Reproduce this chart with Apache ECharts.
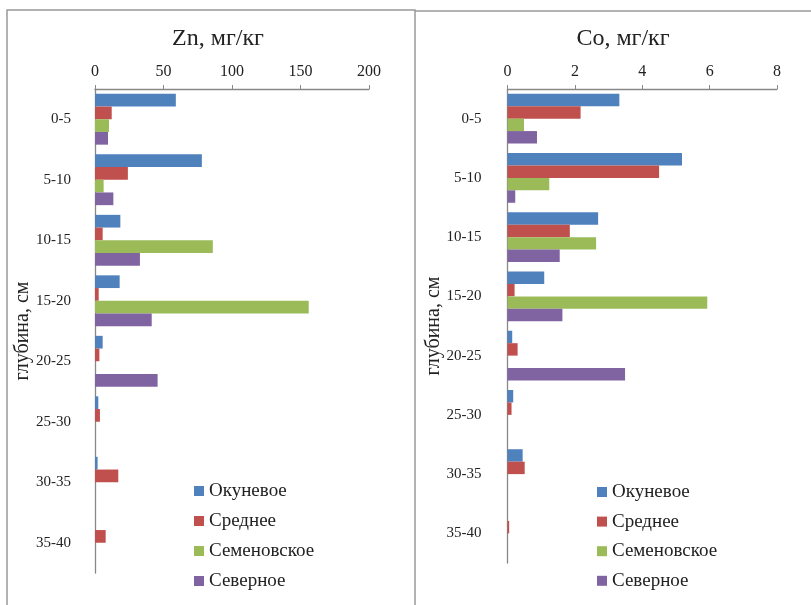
<!DOCTYPE html>
<html>
<head>
<meta charset="utf-8">
<script src="https://cdn.jsdelivr.net/npm/echarts@6/dist/echarts.min.js"></script>
<style>html,body{margin:0;padding:0;background:#fff;}#c{width:811px;height:605px;}</style>
</head>
<body>
<div id="c"></div>
<script>
var categories = ['0-5','5-10','10-15','15-20','20-25','25-30','30-35','35-40'];
var seriesNames = ['Окуневое','Среднее','Семеновское','Северное'];
var znOkunevoe   = [59, 78, 18.5, 18, 5.6, 2.4, 1.9, 0];
var znSrednee    = [12.2, 24, 5.6, 2.7, 3.2, 3.6, 17, 7.8];
var znSemenovsk  = [10.2, 6.3, 86, 156, 0, 0, 0, 0];
var znSevernoe   = [9.5, 13.4, 32.8, 41.4, 45.7, 0, 0, 0];
var coOkunevoe   = [3.32, 5.18, 2.69, 1.09, 0.14, 0.17, 0.45, 0];
var coSrednee    = [2.17, 4.5, 1.85, 0.21, 0.30, 0.12, 0.51, 0.05];
var coSemenovsk  = [0.49, 1.24, 2.63, 5.93, 0, 0, 0, 0];
var coSevernoe   = [0.875, 0.23, 1.55, 1.63, 3.49, 0, 0, 0];
var znTicks = [0, 50, 100, 150, 200];
var coTicks = [0, 2, 4, 6, 8];

var colors = ['#4F81BD','#C0504D','#9BBB59','#8064A2'];
var font = 'Liberation Serif';
var znData = [znOkunevoe, znSrednee, znSemenovsk, znSevernoe];
var coData = [coOkunevoe, coSrednee, coSemenovsk, coSevernoe];

function xAx(idx, ticks) {
  return {
    type: 'value', gridIndex: idx, position: 'top',
    min: ticks[0], max: ticks[ticks.length-1], interval: ticks[1]-ticks[0],
    axisLine: {show: true, lineStyle: {color: '#888', width: 1.3}},
    axisTick: {show: true, inside: false, length: 4, lineStyle: {color: '#888'}},
    splitLine: {show: false},
    axisLabel: {margin: 9, fontFamily: font, fontSize: 16, color: '#222'}
  };
}
function yAx(idx, margin, gap) {
  return {
    type: 'category', gridIndex: idx, data: categories, inverse: true,
    axisLine: {show: true, lineStyle: {color: '#888', width: 1.3}},
    axisTick: {show: false},
    axisLabel: {margin: margin, fontFamily: font, fontSize: 15, color: '#222'},
    name: 'глубина, см', nameLocation: 'middle', nameRotate: 90, nameGap: gap,
    nameMoveOverlap: false,
    nameTextStyle: {fontFamily: font, fontSize: 20, color: '#222'}
  };
}
var series = [];
[znData, coData].forEach(function(group, gi){
  group.forEach(function(arr, si){
    series.push({
      type: 'bar', name: seriesNames[si], xAxisIndex: gi, yAxisIndex: gi,
      data: arr, barGap: '0%', barCategoryGap: '16%',
      itemStyle: {color: colors[si]},
      emphasis: {disabled: true}
    });
  });
});
function legend(left, top, gap) {
  return {
    orient: 'vertical', left: left, top: top, itemWidth: 10, itemHeight: 10, itemGap: gap,
    icon: 'rect', data: seriesNames, selectedMode: false,
    textStyle: {fontFamily: font, fontSize: 19, color: '#222', lineHeight: 20}
  };
}
var chart = echarts.init(document.getElementById('c'));
chart.setOption({
  animation: false,
  title: [
    {text: 'Zn, мг/кг', left: 213, top: 22, textAlign: 'center', textStyle: {fontFamily: font, fontSize: 24, fontWeight: 'normal', color: '#222'}},
    {text: 'Co, мг/кг', left: 618, top: 22, textAlign: 'center', textStyle: {fontFamily: font, fontSize: 24, fontWeight: 'normal', color: '#222'}}
  ],
  grid: [
    {left: 95, right: 442, top: 89, bottom: 32},
    {left: 507.5, right: 34, top: 89, bottom: 42}
  ],
  xAxis: [xAx(0, znTicks), xAx(1, coTicks)],
  yAxis: [yAx(0, 24, 62), yAx(1, 26, 64)],
  legend: [legend(189, 476, 10), legend(592, 477, 9.6)],
  series: series,
  graphic: [
    {type: 'polyline', shape: {points: [[7, 620], [7, 10], [415, 10], [415, 620]]}, style: {stroke: '#999', lineWidth: 1.5, fill: null}, silent: true},
    {type: 'polyline', shape: {points: [[415, 11], [820, 11]]}, style: {stroke: '#999', lineWidth: 1.5, fill: null}, silent: true}
  ]
});
</script>
</body>
</html>
